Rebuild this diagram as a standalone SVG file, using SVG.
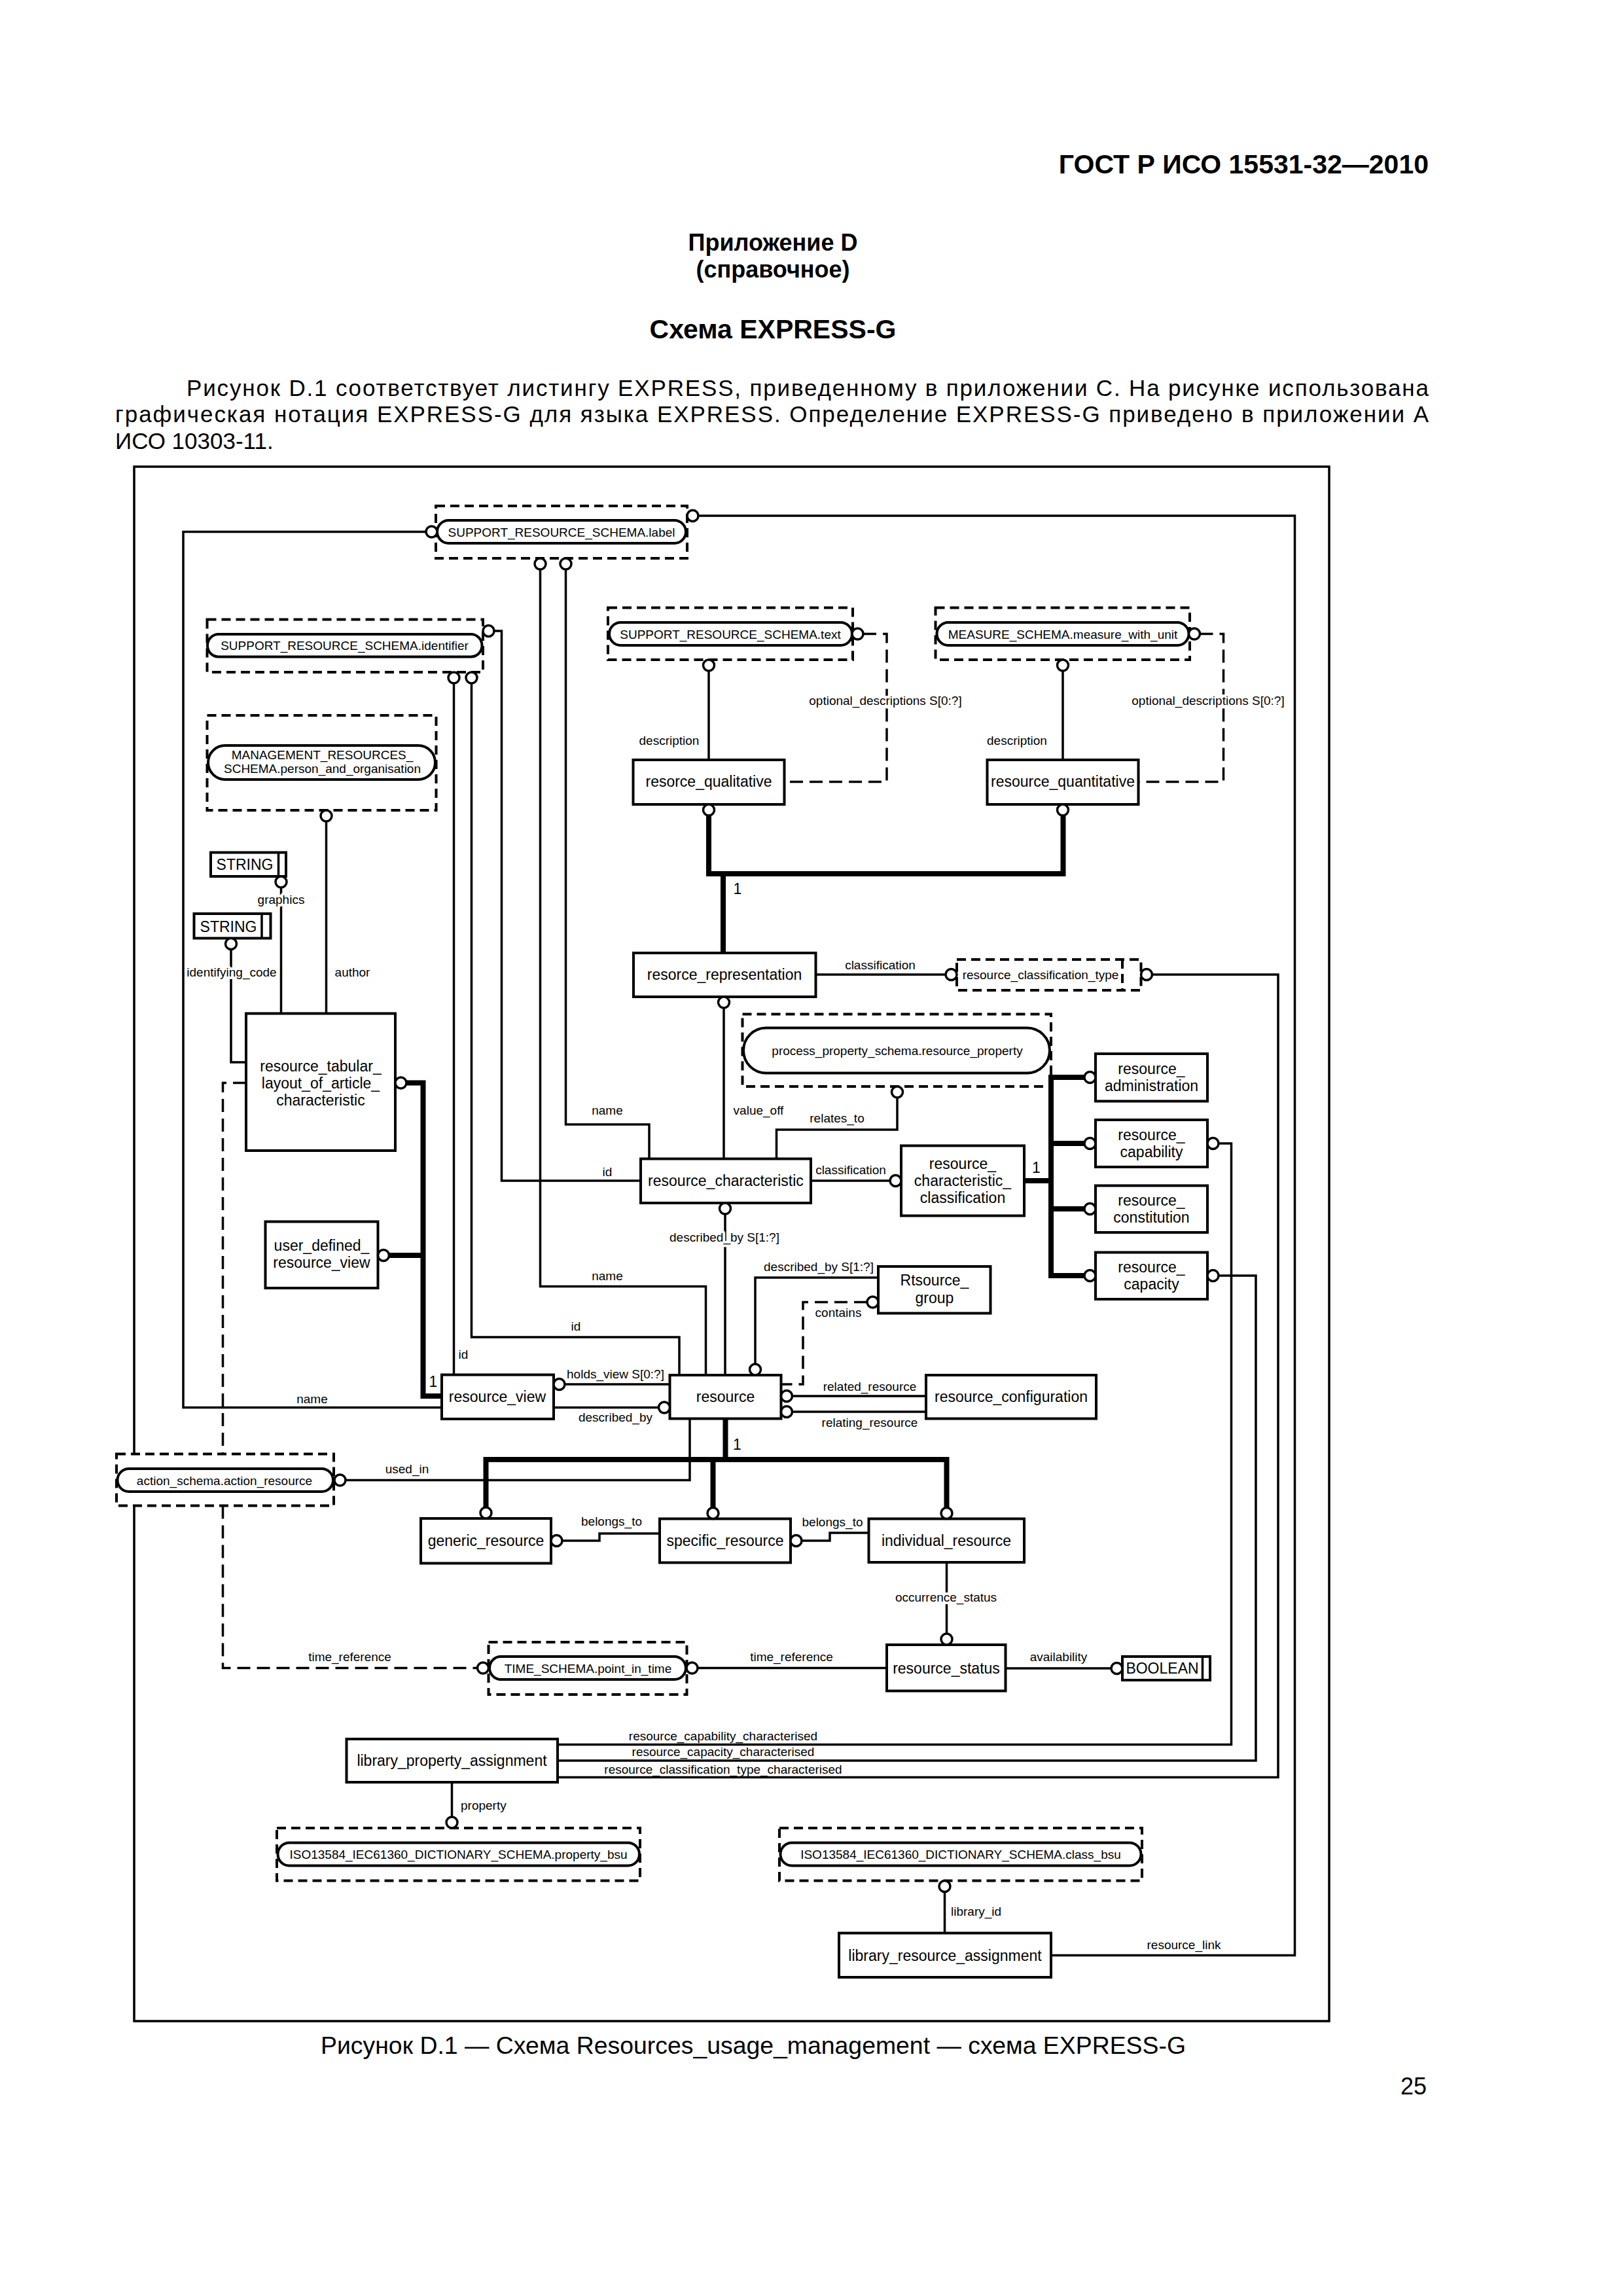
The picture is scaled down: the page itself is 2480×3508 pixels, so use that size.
<svg xmlns="http://www.w3.org/2000/svg" width="2480" height="3508" viewBox="0 0 2480 3508">
<style>
text{font-family:"Liberation Sans",Arial,sans-serif;fill:#000}
.e{fill:#fff;stroke:#000;stroke-width:4}
.d{fill:#fff;stroke:#000;stroke-width:4;stroke-dasharray:14 8}
.o{fill:#fff;stroke:#000;stroke-width:4}
.ln{fill:none;stroke:#000;stroke-width:3.5}
.tk{fill:none;stroke:#000;stroke-width:8}
.dl{fill:none;stroke:#000;stroke-width:3.5;stroke-dasharray:20 10}
.c{fill:#fff;stroke:#000;stroke-width:3.5}
.t{font-size:23px;text-anchor:middle}
.s{font-size:19px;text-anchor:middle}
.sl{font-size:19px;text-anchor:start}
.h{stroke:#fff;stroke-width:8;paint-order:stroke;stroke-linejoin:round}
.hd{font-weight:bold;text-anchor:middle}
</style>
<rect width="2480" height="3508" fill="#fff"/>
<g id="page">
<text x="2183" y="265" font-size="41" font-weight="bold" text-anchor="end">ГОСТ Р ИСО 15531-32—2010</text>
<text class="hd" x="1181" y="383" font-size="36">Приложение D</text>
<text class="hd" x="1181" y="424" font-size="36">(справочное)</text>
<text class="hd" x="1181" y="517" font-size="41">Схема EXPRESS-G</text>
<text x="285" y="605" font-size="35" textLength="1898" lengthAdjust="spacing">Рисунок D.1 соответствует листингу EXPRESS, приведенному в приложении С. На рисунке использована</text>
<text x="176" y="645" font-size="35" textLength="2007" lengthAdjust="spacing">графическая нотация EXPRESS-G для языка EXPRESS. Определение EXPRESS-G приведено в приложении А</text>
<text x="176" y="686" font-size="35">ИСО 10303-11.</text>
<text x="1151" y="3138" font-size="37.5" text-anchor="middle" textLength="1322" lengthAdjust="spacingAndGlyphs">Рисунок D.1 — Схема Resources_usage_management — схема EXPRESS-G</text>
<text x="2180" y="3200" font-size="36" text-anchor="end">25</text>
<rect x="205" y="713" width="1826" height="2375" fill="none" stroke="#000" stroke-width="3.5"/>
</g>
<g id="nodes">
<g id="n_label"><rect class="d" x="666" y="773" width="384" height="80"/><rect class="o" x="668" y="795" width="380" height="35" rx="17.5"/><text class="s" x="858" y="819.5">SUPPORT_RESOURCE_SCHEMA.label</text></g>
<g id="n_identifier"><rect class="d" x="316.5" y="946.5" width="421.5" height="80.5"/><rect class="o" x="317" y="969" width="419.5" height="34.5" rx="17"/><text class="s" x="526.5" y="993">SUPPORT_RESOURCE_SCHEMA.identifier</text></g>
<g id="n_person"><rect class="d" x="316.5" y="1093" width="350" height="145"/><rect class="o" x="318" y="1139" width="347" height="52" rx="26"/><text class="s" x="492.5" y="1160">MANAGEMENT_RESOURCES_</text><text class="s" x="492.5" y="1181">SCHEMA.person_and_organisation</text></g>
<g id="n_text"><rect class="d" x="929" y="928.5" width="374" height="79.5"/><rect class="o" x="931" y="951" width="371" height="35" rx="17.5"/><text class="s" x="1116" y="975.5">SUPPORT_RESOURCE_SCHEMA.text</text></g>
<g id="n_measure"><rect class="d" x="1429.5" y="928.5" width="388.5" height="79.5"/><rect class="o" x="1431.5" y="951" width="385" height="35" rx="17.5"/><text class="s" x="1624" y="975.5">MEASURE_SCHEMA.measure_with_unit</text></g>
<g id="n_qual"><rect class="e" x="967.5" y="1161" width="231" height="68"/><text class="t" x="1083" y="1202">resorce_qualitative</text></g>
<g id="n_quant"><rect class="e" x="1508.5" y="1161" width="231" height="68"/><text class="t" x="1624" y="1202">resource_quantitative</text></g>
<g id="n_repr"><rect class="e" x="968" y="1456" width="278.5" height="67"/><text class="t" x="1107" y="1497">resorce_representation</text></g>
<g id="n_ctype"><rect class="d" x="1462" y="1466" width="281.5" height="47"/><line x1="1715" y1="1466" x2="1715" y2="1513" stroke="#000" stroke-width="4" stroke-dasharray="14 8"/><text class="s" x="1590" y="1496">resource_classification_type</text></g>
<g id="n_prop"><rect class="d" x="1134.5" y="1549.5" width="471.5" height="110.5"/><rect class="o" x="1136" y="1570.5" width="468" height="69" rx="34.5"/><text class="s" x="1371" y="1611.5">process_property_schema.resource_property</text></g>
<g id="n_string1"><rect class="e" x="322" y="1302.5" width="115" height="36.5"/><line x1="425.5" y1="1302.5" x2="425.5" y2="1339" stroke="#000" stroke-width="3.5"/><text class="t" x="374" y="1329">STRING</text></g>
<g id="n_string2"><rect class="e" x="296.5" y="1396" width="117" height="37.5"/><line x1="400" y1="1396" x2="400" y2="1433.5" stroke="#000" stroke-width="3.5"/><text class="t" x="349" y="1423.5">STRING</text></g>
<g id="n_tab"><rect class="e" x="376" y="1548.5" width="228" height="209.5"/><text class="t" x="490" y="1636.5">resource_tabular_</text><text class="t" x="490" y="1662.5">layout_of_article_</text><text class="t" x="490" y="1688.5">characteristic</text></g>
<g id="n_udrv"><rect class="e" x="405.5" y="1866.5" width="172" height="101.5"/><text class="t" x="491.5" y="1911">user_defined_</text><text class="t" x="491.5" y="1937">resource_view</text></g>
<g id="n_char"><rect class="e" x="979" y="1770.5" width="260" height="67.5"/><text class="t" x="1109" y="1812">resource_characteristic</text></g>
<g id="n_cclass"><rect class="e" x="1377" y="1750.5" width="188" height="107"/><text class="t" x="1471" y="1786">resource_</text><text class="t" x="1471" y="1812">characteristic_</text><text class="t" x="1471" y="1838">classification</text></g>
<g id="n_admin"><rect class="e" x="1674" y="1610" width="171" height="72.5"/><text class="t" x="1759.5" y="1641">resource_</text><text class="t" x="1759.5" y="1667">administration</text></g>
<g id="n_capab"><rect class="e" x="1674" y="1711" width="171" height="72"/><text class="t" x="1759.5" y="1742">resource_</text><text class="t" x="1759.5" y="1768">capability</text></g>
<g id="n_const"><rect class="e" x="1674" y="1811.5" width="171" height="71.5"/><text class="t" x="1759.5" y="1842">resource_</text><text class="t" x="1759.5" y="1868">constitution</text></g>
<g id="n_capac"><rect class="e" x="1674" y="1913.5" width="171" height="71.5"/><text class="t" x="1759.5" y="1944">resource_</text><text class="t" x="1759.5" y="1970">capacity</text></g>
<g id="n_group"><rect class="e" x="1342" y="1935" width="171.5" height="71.5"/><text class="t" x="1428" y="1964">Rtsource_</text><text class="t" x="1428" y="1990.5">group</text></g>
<g id="n_view"><rect class="e" x="675" y="2100.5" width="171" height="67.5"/><text class="t" x="760" y="2142">resource_view</text></g>
<g id="n_res"><rect class="e" x="1023.5" y="2101" width="170" height="66.5"/><text class="t" x="1108.5" y="2142">resource</text></g>
<g id="n_config"><rect class="e" x="1415" y="2101" width="260" height="66.5"/><text class="t" x="1545" y="2142">resource_configuration</text></g>
<g id="n_action"><rect class="d" x="178" y="2221.5" width="332" height="79"/><rect class="o" x="179.5" y="2244" width="329.5" height="35" rx="17.5"/><text class="s" x="343" y="2268.5">action_schema.action_resource</text></g>
<g id="n_generic"><rect class="e" x="643" y="2320" width="199" height="68.5"/><text class="t" x="742.5" y="2362">generic_resource</text></g>
<g id="n_specific"><rect class="e" x="1008" y="2320.5" width="200" height="67"/><text class="t" x="1108" y="2362">specific_resource</text></g>
<g id="n_indiv"><rect class="e" x="1327.5" y="2320.5" width="237.5" height="66.5"/><text class="t" x="1446" y="2362">individual_resource</text></g>
<g id="n_time"><rect class="d" x="746.5" y="2509" width="303" height="80"/><rect class="o" x="748" y="2531" width="300" height="35" rx="17.5"/><text class="s" x="898.5" y="2555.5">TIME_SCHEMA.point_in_time</text></g>
<g id="n_status"><rect class="e" x="1355" y="2513" width="181.5" height="70.5"/><text class="t" x="1446" y="2556.5">resource_status</text></g>
<g id="n_bool"><rect class="e" x="1715" y="2531" width="134" height="36"/><line x1="1837.5" y1="2531" x2="1837.5" y2="2567" stroke="#000" stroke-width="3.5"/><text class="t" x="1776" y="2557">BOOLEAN</text></g>
<g id="n_lpa"><rect class="e" x="529.5" y="2657" width="322.5" height="66"/><text class="t" x="690.5" y="2698">library_property_assignment</text></g>
<g id="n_pbsu"><rect class="d" x="423" y="2793" width="555" height="80.5"/><rect class="o" x="424.5" y="2815.5" width="552.5" height="35" rx="17.5"/><text class="s" x="700.5" y="2840">ISO13584_IEC61360_DICTIONARY_SCHEMA.property_bsu</text></g>
<g id="n_cbsu"><rect class="d" x="1191" y="2793" width="554" height="80.5"/><rect class="o" x="1192.5" y="2815.5" width="551" height="35" rx="17.5"/><text class="s" x="1468" y="2840">ISO13584_IEC61360_DICTIONARY_SCHEMA.class_bsu</text></g>
<g id="n_lra"><rect class="e" x="1282" y="2953.5" width="324" height="67.5"/><text class="t" x="1444" y="2995.5">library_resource_assignment</text></g>
</g>
<g id="connectors">
<path class="ln" d="M651,812.5 H280 V2150.5 H675"/>
<path class="ln" d="M1067,788 H1978.5 V2987.5 H1606"/>
<path class="ln" d="M825.5,870 V1965.5 H1078.5 V2101"/>
<path class="ln" d="M864.5,870 V1718 H992 V1770.5"/>
<path class="ln" d="M755,964 H766.5 V1804 H979"/>
<path class="ln" d="M693.5,1044 V2100.5"/>
<path class="ln" d="M720.5,1044 V2043 H1038 V2101"/>
<path class="ln" d="M498.5,1255 V1548.5"/>
<path class="ln" d="M429.5,1356 V1548.5"/>
<path class="ln" d="M353,1450.5 V1623 H376"/>
<path class="tk" d="M621,1654.5 H646.5 V2133 H675"/>
<path class="tk" d="M594.5,1918 H646.5"/>
<path class="dl" d="M376,1654.5 H340.5 V2221.5"/>
<path class="dl" d="M340.5,2300.5 V2548.5 H730"/>
<path class="dl" d="M1319,968.5 H1355 V1194.5 H1198.5"/>
<path class="ln" d="M1083,1025 V1161"/>
<path class="dl" d="M1833.5,968.5 H1869.5 V1194.5 H1739.5"/>
<path class="ln" d="M1624,1025 V1161"/>
<path class="tk" d="M1083,1246 V1335 H1624.5 V1246"/>
<path class="tk" d="M1105,1335 V1456"/>
<path class="ln" d="M1106,1540 V1770.5"/>
<path class="ln" d="M1246.5,1489 H1445"/>
<path class="ln" d="M1760.5,1489 H1953 V2715.5 H852"/>
<path class="ln" d="M1371,1677 V1726 H1186.5 V1770.5"/>
<path class="ln" d="M1239,1804 H1360"/>
<path class="tk" d="M1565,1804 H1606"/>
<path class="tk" d="M1606,1642 V1953"/>
<path class="tk" d="M1606,1646 H1657 M1606,1747 H1657 M1606,1847 H1657 M1606,1949 H1657"/>
<path class="ln" d="M1862,1747 H1881.5 V2665.5 H852"/>
<path class="ln" d="M1862,1949 H1919 V2690 H852"/>
<path class="ln" d="M1108,1855 V2101"/>
<path class="ln" d="M1342,1952 H1154 V2084"/>
<path class="dl" d="M1325,1989.5 H1227 V2115 H1193.5"/>
<path class="ln" d="M1210.5,2133 H1415 M1210.5,2157 H1415"/>
<path class="ln" d="M863,2115 H1023.5"/>
<path class="ln" d="M846,2150.5 H1006.5"/>
<path class="ln" d="M1054,2167.5 V2261.5 H528"/>
<path class="tk" d="M1108.5,2167.5 V2230"/>
<path class="tk" d="M742.5,2303 V2230 H1446.5 V2303.5"/>
<path class="tk" d="M1089.5,2230 V2303.5"/>
<path class="ln" d="M859,2354 H916 V2343 H1008"/>
<path class="ln" d="M1225,2354 H1268 V2342 H1327.5"/>
<path class="ln" d="M1446.5,2387 V2496"/>
<path class="ln" d="M1066,2548.5 H1355"/>
<path class="ln" d="M1536.5,2549 H1698"/>
<path class="ln" d="M690.5,2723 V2776"/>
<path class="ln" d="M1443.5,2890.5 V2953.5"/>
<circle class="c" cx="659.5" cy="812.5" r="8.5"/>
<circle class="c" cx="1058.5" cy="788" r="8.5"/>
<circle class="c" cx="825.5" cy="861.5" r="8.5"/>
<circle class="c" cx="864.5" cy="861.5" r="8.5"/>
<circle class="c" cx="746.5" cy="964" r="8.5"/>
<circle class="c" cx="693.5" cy="1035.5" r="8.5"/>
<circle class="c" cx="720.5" cy="1035.5" r="8.5"/>
<circle class="c" cx="498.5" cy="1246.5" r="8.5"/>
<circle class="c" cx="429.5" cy="1347.5" r="8.5"/>
<circle class="c" cx="353" cy="1442" r="8.5"/>
<circle class="c" cx="612.5" cy="1654.5" r="8.5"/>
<circle class="c" cx="586" cy="1918" r="8.5"/>
<circle class="c" cx="738" cy="2548.5" r="8.5"/>
<circle class="c" cx="1310.5" cy="968.5" r="8.5"/>
<circle class="c" cx="1083" cy="1016.5" r="8.5"/>
<circle class="c" cx="1825" cy="968.5" r="8.5"/>
<circle class="c" cx="1624" cy="1016.5" r="8.5"/>
<circle class="c" cx="1083" cy="1237.5" r="8.5"/>
<circle class="c" cx="1624" cy="1237.5" r="8.5"/>
<circle class="c" cx="1106" cy="1531.5" r="8.5"/>
<circle class="c" cx="1453.5" cy="1489" r="8.5"/>
<circle class="c" cx="1752" cy="1489" r="8.5"/>
<circle class="c" cx="1371" cy="1668.5" r="8.5"/>
<circle class="c" cx="1368.5" cy="1804" r="8.5"/>
<circle class="c" cx="1665.5" cy="1646" r="8.5"/>
<circle class="c" cx="1665.5" cy="1747" r="8.5"/>
<circle class="c" cx="1665.5" cy="1847" r="8.5"/>
<circle class="c" cx="1665.5" cy="1949" r="8.5"/>
<circle class="c" cx="1853.5" cy="1747" r="8.5"/>
<circle class="c" cx="1853.5" cy="1949" r="8.5"/>
<circle class="c" cx="1108" cy="1846.5" r="8.5"/>
<circle class="c" cx="1154" cy="2092.5" r="8.5"/>
<circle class="c" cx="1333.5" cy="1989.5" r="8.5"/>
<circle class="c" cx="1202" cy="2133" r="8.5"/>
<circle class="c" cx="1202" cy="2157" r="8.5"/>
<circle class="c" cx="854.5" cy="2115" r="8.5"/>
<circle class="c" cx="1015" cy="2150.5" r="8.5"/>
<circle class="c" cx="519.5" cy="2261.5" r="8.5"/>
<circle class="c" cx="742.5" cy="2311.5" r="8.5"/>
<circle class="c" cx="1089.5" cy="2312" r="8.5"/>
<circle class="c" cx="1446.5" cy="2312" r="8.5"/>
<circle class="c" cx="850.5" cy="2354" r="8.5"/>
<circle class="c" cx="1216.5" cy="2354" r="8.5"/>
<circle class="c" cx="1446.5" cy="2504.5" r="8.5"/>
<circle class="c" cx="1057.5" cy="2548.5" r="8.5"/>
<circle class="c" cx="1706.5" cy="2549" r="8.5"/>
<circle class="c" cx="690.5" cy="2784.5" r="8.5"/>
<circle class="c" cx="1443.5" cy="2882" r="8.5"/>
<text class="s" x="477" y="2144">name</text>
<text class="s" x="1809" y="2978">resource_link</text>
<text class="s" x="928" y="1956">name</text>
<text class="s" x="928" y="1703">name</text>
<text class="s" x="928" y="1797">id</text>
<text class="s" x="708" y="2076">id</text>
<text class="s" x="880" y="2033">id</text>
<text class="s" x="538.5" y="1492">author</text>
<text class="s h" x="429.5" y="1380.5">graphics</text>
<text class="s h" x="354" y="1492">identifying_code</text>
<text class="t" x="662" y="2119">1</text>
<text class="s" x="534.5" y="2538">time_reference</text>
<text class="s h" x="1353" y="1077">optional_descriptions S[0:?]</text>
<text class="s" x="1022.5" y="1138">description</text>
<text class="s h" x="1846" y="1077">optional_descriptions S[0:?]</text>
<text class="s" x="1554" y="1138">description</text>
<text class="t" x="1127" y="1366">1</text>
<text class="s" x="1159" y="1703">value_off</text>
<text class="s" x="1345" y="1481">classification</text>
<text class="s" x="1279" y="1715">relates_to</text>
<text class="s" x="1300" y="1794">classification</text>
<text class="t" x="1583.5" y="1792">1</text>
<text class="s" x="1105" y="2659">resource_capability_characterised</text>
<text class="s" x="1105" y="2683">resource_capacity_characterised</text>
<text class="s" x="1105" y="2710">resource_classification_type_characterised</text>
<text class="s h" x="1107" y="1897">described_by S[1:?]</text>
<text class="s" x="1251" y="1942">described_by S[1:?]</text>
<text class="s" x="1281" y="2012">contains</text>
<text class="s" x="1329" y="2125">related_resource</text>
<text class="s" x="1329" y="2180">relating_resource</text>
<text class="s" x="940.5" y="2106">holds_view S[0:?]</text>
<text class="s" x="940.5" y="2172">described_by</text>
<text class="s" x="622" y="2251">used_in</text>
<text class="t" x="1126.5" y="2215">1</text>
<text class="s" x="934.5" y="2331">belongs_to</text>
<text class="s" x="1272" y="2332">belongs_to</text>
<text class="s h" x="1445.5" y="2446.5">occurrence_status</text>
<text class="s" x="1209.5" y="2538">time_reference</text>
<text class="s" x="1617.5" y="2538">availability</text>
<text class="sl" x="704" y="2765">property</text>
<text class="sl" x="1453" y="2927">library_id</text>
</g>
</svg>
